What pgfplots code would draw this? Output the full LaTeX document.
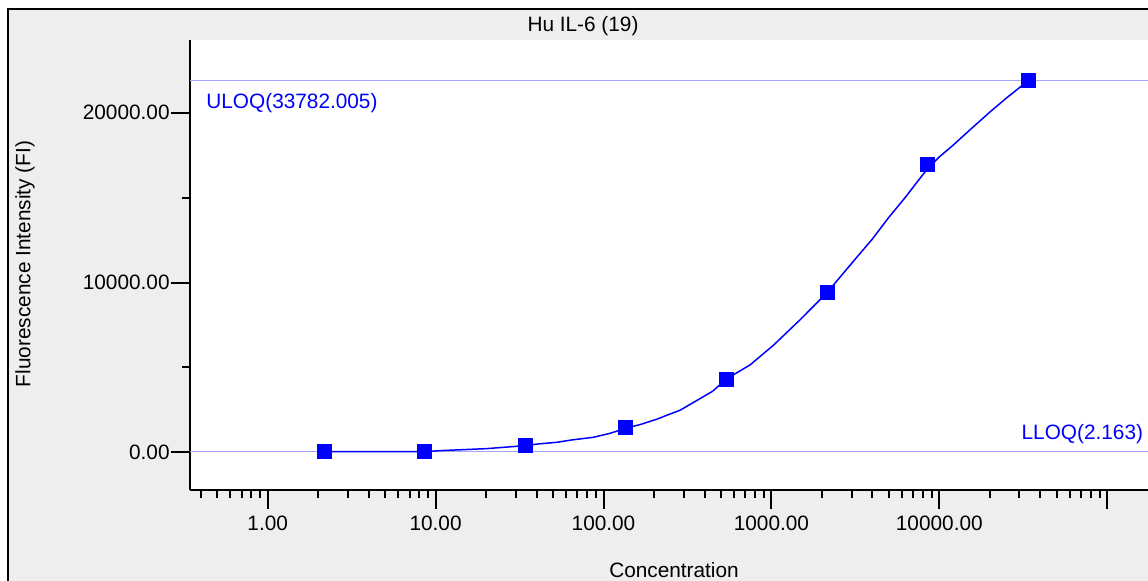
\documentclass[border=0pt]{standalone}
\usepackage{pgfplots}
\pgfplotsset{compat=1.18}
\usepackage{fontspec}
\setmainfont{Liberation Sans}
\definecolor{panelgray}{RGB}{238,238,238}
\definecolor{fitblue}{RGB}{0,0,255}
\definecolor{limitblue}{RGB}{165,165,255}
\newcommand{\chartfont}{\fontsize{10.4}{12}\selectfont}

\begin{document}
\begin{tikzpicture}
\useasboundingbox (0,0) rectangle (574pt,-290.5pt);
\fill[white] (0,0) rectangle (574pt,-290.5pt);
\fill[panelgray] (4.15pt,-4.5pt) rectangle (574pt,-290.5pt);
\draw[black,line width=1pt] (4.15pt,-290.5pt) -- (4.15pt,-4.5pt) -- (574pt,-4.5pt);

\node[font=\chartfont,anchor=base] at (291.5pt,-15.75pt) {Hu IL-6 (19)};
\node[font=\chartfont,rotate=90] at (12.5pt,-132pt) {Fluorescence Intensity (FI)};
\node[font=\chartfont,anchor=base] at (337pt,-289pt) {Concentration};

\begin{axis}[
  at={(95pt,-245pt)}, anchor=south west,
  scale only axis, width=479pt, height=225pt,
  xmode=log, log basis x=10,
  xmin=0.3445, xmax=175000, ymin=-2218, ymax=24289,
  scaled y ticks=false,
  axis x line*=bottom, axis y line*=left,
  axis line style={line width=1pt,-},
  axis background/.style={fill=white},
  tick align=outside,
  major tick length=9.5pt, minor tick length=4pt,
  every tick/.style={black,line width=1pt},
  xtick={1,10,100,1000,10000,100000},
  xticklabels={1.00,10.00,100.00,1000.00,10000.00,{}},
  minor xtick={0.4,0.5,0.6,0.7,0.8,0.9,
    2,3,4,5,6,7,8,9,20,30,40,50,60,70,80,90,
    200,300,400,500,600,700,800,900,
    2000,3000,4000,5000,6000,7000,8000,9000,
    20000,30000,40000,50000,60000,70000,80000,90000},
  ytick={0,10000,20000},
  yticklabels={0.00,10000.00,20000.00},
  minor ytick={5000,15000},
  tick label style={font=\chartfont},
  yticklabel style={inner xsep=0.5pt},
]
% quantification limits
\addplot[limitblue,line width=0.5pt] coordinates {(0.3445,21930) (175000,21930)};
\addplot[limitblue,line width=0.5pt] coordinates {(0.3445,40) (175000,40)};

% fitted standard curve
\addplot[fitblue,line width=0.75pt] coordinates {
  (2.166,40) (8.60,40) (10.62,100) (20.14,218) (34.17,395) (40.9,495)
  (52.6,590) (64.7,730) (86.9,885) (109.4,1120) (135.7,1420) (165.2,1635)
  (207.5,1950) (237.7,2180) (285.8,2480) (358.9,3050) (446.7,3600)
  (539,4320) (746.4,5150) (1026,6300) (1479,7800) (2141,9400) (3076,11250)
  (3981,12550) (5012,13850) (6310,15050) (7413,15950) (8505,16700)
  (10000,17400) (12106,18100) (13583,18550) (15849,19150) (20045,20050)
  (25177,20880) (30200,21500) (33782,21930)
};

% standards
\addplot[only marks,mark=square*,mark size=3.5pt,fitblue] coordinates {
  (2.166,40) (8.60,40) (34.17,395) (135.7,1475) (539,4320)
  (2141,9400) (8505,16970) (33782,21930)
};

\node[anchor=west,inner sep=0pt,text=fitblue,font=\chartfont] at (axis cs:0.429,20570) {ULOQ(33782.005)};
\node[anchor=east,inner sep=0pt,text=fitblue,font=\chartfont] at (axis cs:164400,1100) {LLOQ(2.163)};
\end{axis}
\end{tikzpicture}
\end{document}
